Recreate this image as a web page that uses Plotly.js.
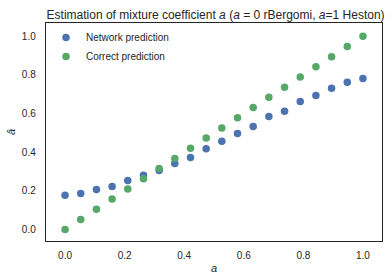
<!DOCTYPE html>
<html>
<head>
<meta charset="utf-8">
<script src="https://cdn.plot.ly/plotly-3.0.1.min.js"></script>
<style>html,body{margin:0;padding:0;background:#fff;}#chart{width:392px;height:278px;}</style>
</head>
<body>
<div id="chart"></div>
<script>
const aTrue = [0.0, 0.0526, 0.1053, 0.1579, 0.2105, 0.2632, 0.3158, 0.3684, 0.4211, 0.4737,
               0.5263, 0.5789, 0.6316, 0.6842, 0.7368, 0.7895, 0.8421, 0.8947, 0.9474, 1.0];
const networkPred = [0.178, 0.187, 0.207, 0.223, 0.254, 0.281, 0.306, 0.342, 0.373, 0.418,
                     0.457, 0.497, 0.534, 0.585, 0.613, 0.663, 0.694, 0.731, 0.762, 0.782];
const correctPred = [0.0, 0.0526, 0.1053, 0.1579, 0.2105, 0.2632, 0.3158, 0.3684, 0.4211, 0.4737,
                     0.5263, 0.5789, 0.6316, 0.6842, 0.7368, 0.7895, 0.8421, 0.8947, 0.9474, 1.0];
const tickVals = [0.0, 0.2, 0.4, 0.6, 0.8, 1.0];
const tickText = ["0.0", "0.2", "0.4", "0.6", "0.8", "1.0"];

const font = "Liberation Sans, Arial, sans-serif";
const traces = [
  {x: aTrue, y: networkPred, mode: "markers", type: "scatter", name: "Network prediction",
   marker: {color: "#4c72b0", size: 7.5}},
  {x: aTrue, y: correctPred, mode: "markers", type: "scatter", name: "Correct prediction",
   marker: {color: "#55a868", size: 7.5}}
];
const axisCommon = {
  showgrid: false, zeroline: false, showline: true, mirror: true,
  linecolor: "#262626", linewidth: 1.25, ticks: "", tickvals: tickVals, ticktext: tickText,
  tickfont: {family: font, size: 10, color: "#262626"}
};
const layout = {
  width: 392, height: 278,
  margin: {l: 46, r: 10, t: 23, b: 37, pad: 0},
  paper_bgcolor: "#fff", plot_bgcolor: "#fff",
  font: {family: font, color: "#262626"},
  title: {text: "Estimation of mixture coefficient <i>a</i> (<i>a</i> = 0 rBergomi, <i>a</i>=1 Heston)",
          font: {family: font, size: 12, color: "#262626"}, x: 0.55, xanchor: "center", y: 0.948, yanchor: "middle"},
  xaxis: Object.assign({}, axisCommon, {range: [-0.064, 1.064], ticklabelstandoff: 5,
          title: {text: "<i>a</i>", font: {family: font, size: 11, color: "#262626"}, standoff: 4}}),
  yaxis: Object.assign({}, axisCommon, {range: [-0.059, 1.069], ticklabelstandoff: 7,
          title: {text: "<i>â</i>", font: {family: font, size: 11, color: "#262626"}, standoff: 4}}),
  legend: {x: 0.0, y: 1.0, xanchor: "left", yanchor: "top", bgcolor: "rgba(0,0,0,0)",
           font: {family: font, size: 10, color: "#262626"}, tracegroupgap: 0},
  showlegend: true
};
Plotly.newPlot("chart", traces, layout, {staticPlot: true, displayModeBar: false});
</script>
</body>
</html>
